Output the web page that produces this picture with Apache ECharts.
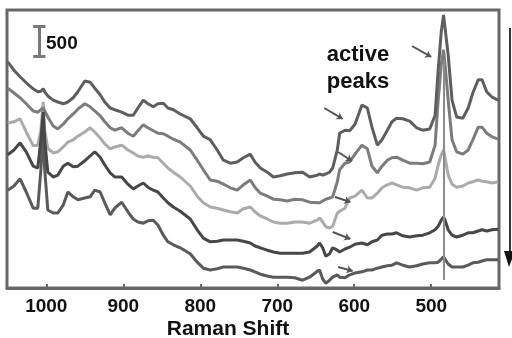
<!DOCTYPE html>
<html><head><meta charset="utf-8">
<script src="https://cdn.jsdelivr.net/npm/echarts@6/dist/echarts.min.js"></script>
<style>html,body{margin:0;padding:0;background:#fff}#c{width:512px;height:338px}</style>
</head><body><div id="c"></div>
<script>
// Raman shift (cm-1) sample positions
const shifts = [1050,1042,1034,1026,1017,1011,1007,1004,1002,998,991,985,978,972,965,959,950,943,937,930,924,917,911,902,894,887,881,874,868,861,855,848,842,835,826,813,804,796,787,778,770,761,752,744,735,729,722,713,705,696,687,677,667,658,648,645,641,637,632,628,622,619,612,606,599,590,583,577,570,564,557,551,545,537,528,519,511,502,495,491,487,484,482,478,473,467,459,452,446,439,434,428,421,413];
// Intensities (counts, stacked/offset) for the five spectra, top to bottom
const spectrum1 = [3770,3630,3520,3420,3320,3270,3280,3320,3270,3200,3130,3100,3070,3100,3170,3270,3450,3430,3330,3220,3100,3000,2970,2930,2880,2880,3000,3130,3070,3020,3070,3080,3000,2970,2900,2820,2670,2530,2470,2300,2130,2080,2100,2170,2230,2100,2000,1930,1850,1870,1900,1920,1930,1850,1880,1900,1880,1900,1930,2000,2300,2580,2630,2620,2730,3050,3000,2680,2380,2470,2630,2770,2830,2820,2780,2670,2630,2650,2880,3630,4270,4550,4330,3880,3130,2850,2830,3000,3250,3470,3470,3270,3180,3130];
const spectrum2 = [3330,3250,3170,3070,2950,2930,2970,3000,2950,2850,2700,2650,2730,2820,2900,2980,3070,3020,2950,2870,2770,2670,2630,2670,2580,2530,2620,2720,2670,2620,2580,2570,2530,2480,2430,2300,2130,1970,1800,1780,1730,1670,1630,1720,1800,1680,1580,1530,1480,1470,1450,1480,1470,1430,1420,1420,1450,1480,1500,1520,1770,1970,2080,2100,2230,2380,2320,2030,1920,2030,2130,2170,2180,2130,2080,2080,2070,2100,2380,3130,3720,3970,3720,3130,2470,2270,2230,2300,2470,2680,2680,2580,2520,2480];
const spectrum3 = [2750,2770,2820,2600,2370,2380,2630,3100,2630,2330,2250,2270,2350,2430,2470,2530,2600,2670,2600,2500,2400,2320,2350,2380,2300,2250,2200,2180,2200,2180,2170,2080,2000,1930,1850,1700,1530,1420,1350,1330,1300,1270,1250,1320,1350,1270,1200,1150,1100,1080,1080,1100,1100,1080,1130,1170,1100,1020,1000,1030,1250,1280,1330,1500,1530,1630,1500,1500,1580,1670,1720,1750,1720,1680,1670,1630,1670,1680,1830,2050,2220,2300,2170,1880,1730,1680,1700,1750,1770,1800,1780,1770,1750,1770];
const spectrum4 = [2220,2300,2420,2270,2030,2000,2470,2930,2470,1930,1850,1880,2030,2080,2020,2030,2120,2200,2270,2180,2050,1920,1850,1850,1730,1650,1700,1750,1680,1630,1600,1500,1420,1350,1280,1150,970,830,770,780,800,800,800,780,750,700,670,630,600,580,580,580,580,600,700,750,670,530,570,670,630,600,650,680,730,750,720,770,800,880,900,900,920,870,850,870,880,920,970,1030,1130,1180,1130,970,880,850,880,920,920,950,970,950,970,980];
const spectrum5 = [1630,1700,1820,1600,1330,1330,1970,2630,1970,1300,1250,1250,1380,1600,1520,1470,1500,1520,1630,1600,1420,1220,1330,1430,1270,1150,1100,1080,1120,1130,1050,880,770,720,670,570,430,330,300,320,350,350,350,330,300,270,230,200,180,180,180,170,130,180,280,300,150,80,130,180,220,180,170,220,250,270,300,300,330,350,370,380,420,380,350,370,400,420,420,430,480,520,480,400,350,350,350,380,420,430,450,470,470,470];
const tickValues = [1000, 900, 800, 700, 600, 500];
const activePeak = 484;
const scaleBar = [3867, 4367]; // 500 counts

const FONT = '"Liberation Sans", Arial, sans-serif';
const mk = (vals) => shifts.map((x, i) => [x, vals[i]]);
const lineSeries = (name, vals, color) => ({
  name, type: 'line', data: mk(vals), showSymbol: false, z: 3,
  lineStyle: { color, width: 3 }, itemStyle: { color }, animation: false
});
const seg = (a, b, color, width, endSym) => [
  { coord: a, symbol: 'none', lineStyle: { color, width, type: 'solid' } },
  { coord: b, symbol: endSym || 'none', symbolSize: 6 }
];

const chart = echarts.init(document.getElementById('c'));
chart.setOption({
  animation: false,
  backgroundColor: '#fff',
  grid: { left: 7, right: 13, top: 10, bottom: 50, show: true, borderColor: '#686868', borderWidth: 3 },
  xAxis: {
    type: 'value', inverse: true, min: 412, max: 1051,
    axisLine: { lineStyle: { color: '#686868', width: 3 } },
    axisTick: { inside: true, length: 4, customValues: tickValues, lineStyle: { color: '#686868', width: 2 } },
    axisLabel: { customValues: tickValues, formatter: (v) => String(v), margin: 9, color: '#111', fontSize: 19, fontWeight: 'bold', fontFamily: FONT },
    splitLine: { show: false }
  },
  yAxis: { type: 'value', min: 0, max: 4633, show: false },
  series: [
    { type: 'line', data: [], z: 1, markLine: { silent: true, animation: false, label: { show: false },
      data: [ seg([activePeak, 3800], [activePeak, 133], '#8c8c8c', 2) ] } },
    lineSeries('spectrum 3', spectrum3, '#ababab'),
    lineSeries('spectrum 2', spectrum2, '#7c7c7c'),
    lineSeries('spectrum 5', spectrum5, '#5a5a5a'),
    lineSeries('spectrum 4', spectrum4, '#474747'),
    lineSeries('spectrum 1', spectrum1, '#5e5e5e'),
    { type: 'line', data: [], z: 5, markLine: { silent: true, animation: false, label: { show: false },
      data: [
        seg([1009, scaleBar[0]], [1009, scaleBar[1]], '#7a7a7a', 3),
        seg([1017, scaleBar[1]], [1001, scaleBar[1]], '#7a7a7a', 3),
        seg([1017, scaleBar[0]], [1001, scaleBar[0]], '#7a7a7a', 3),
        seg([525, 4033], [500, 3850], '#555', 2, 'arrow'),
        seg([639, 3000], [615, 2817], '#555', 2, 'arrow'),
        seg([621, 2267], [603, 2117], '#555', 2, 'arrow'),
        seg([625, 1517], [605, 1433], '#555', 2, 'arrow'),
        seg([628, 933], [605, 817], '#555', 2, 'arrow'),
        seg([621, 350], [602, 283], '#555', 2, 'arrow')
      ] } }
  ],
  graphic: [
    { type: 'text', x: 46, y: 44, style: { text: '500', font: 'bold 19px ' + FONT, fill: '#111', align: 'left', verticalAlign: 'middle' } },
    { type: 'text', x: 358, y: 55, style: { text: 'active', font: 'bold 22px ' + FONT, fill: '#111', align: 'center', verticalAlign: 'middle' } },
    { type: 'text', x: 358, y: 82, style: { text: 'peaks', font: 'bold 22px ' + FONT, fill: '#111', align: 'center', verticalAlign: 'middle' } },
    { type: 'text', x: 228, y: 329, style: { text: 'Raman Shift', font: 'bold 21px ' + FONT, fill: '#111', align: 'center', verticalAlign: 'middle' } },
    { type: 'line', shape: { x1: 510, y1: 28, x2: 510, y2: 256 }, style: { stroke: '#333', lineWidth: 2 } },
    { type: 'polygon', shape: { points: [[504, 251], [515, 251], [509, 267]] }, style: { fill: '#111' } }
  ]
});
</script></body></html>
